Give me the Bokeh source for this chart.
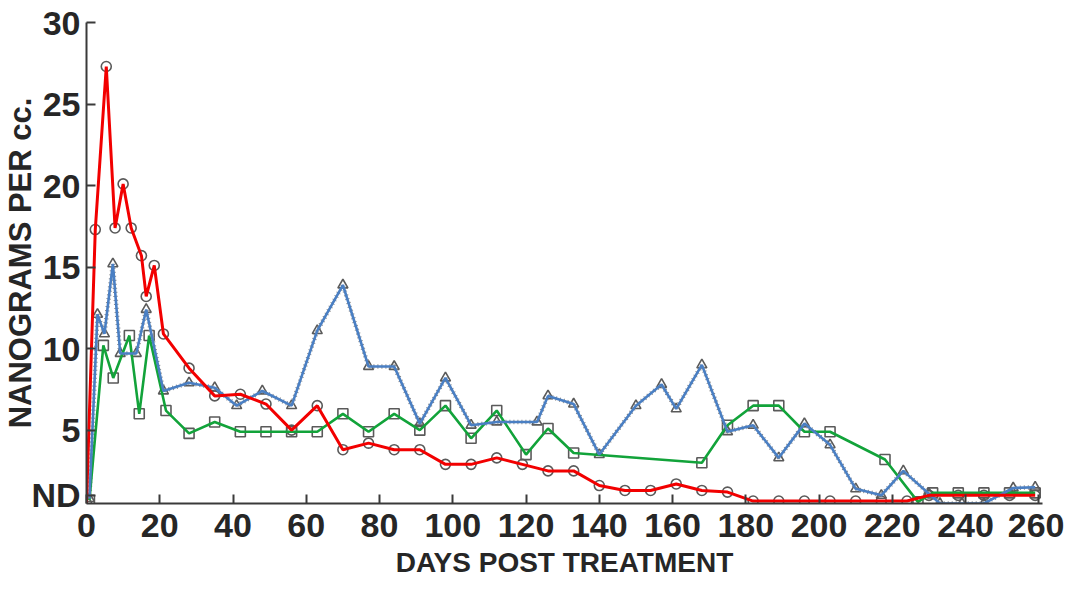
from bokeh.plotting import figure
from bokeh.models import Range1d, FixedTicker
from bokeh.embed import file_html
from bokeh.resources import INLINE

# ---- data ----
red_days = [0, 2.4, 5.4, 7.8, 10, 12.2, 15, 16.3, 18.5, 21, 28, 35, 42, 49, 56, 63, 70, 77, 84, 91,
            98, 105, 112, 119, 126, 133, 140, 147, 154, 161, 168, 175, 182, 189, 196, 203, 210, 217,
            224, 230, 238, 245, 252, 259]
red_vals = [0.5, 17.3, 27.3, 17.4, 20.1, 17.4, 15.7, 13.2, 15.1, 10.9, 8.8, 7.1, 7.2, 6.6, 5.0, 6.5,
            3.8, 4.2, 3.8, 3.8, 2.9, 2.9, 3.3, 2.9, 2.5, 2.5, 1.6, 1.3, 1.3, 1.7, 1.3, 1.2, 0.65, 0.65,
            0.65, 0.65, 0.65, 0.65, 0.65, 1.0, 1.0, 1.0, 1.0, 1.0]

blue_days = [0.8, 3, 4.9, 7.2, 9.2, 13.6, 16.3, 21, 28, 35, 41, 48, 56, 63, 70, 77, 84, 91, 98, 105,
             112, 123, 126, 133, 140, 150, 157, 161, 168, 175, 182, 189, 196, 203, 210, 217, 223, 230,
             233, 239, 245, 253, 259]
blue_vals = [0.8, 12.1, 10.9, 15.2, 9.7, 9.7, 12.4, 7.4, 7.9, 7.6, 6.5, 7.4, 6.5, 11.1, 13.9, 8.9, 8.9,
             5.4, 8.2, 5.3, 5.5, 5.5, 7.1, 6.6, 3.5, 6.5, 7.8, 6.3, 9.0, 4.9, 5.3, 3.3, 5.4, 4.1, 1.4,
             1.0, 2.5, 1.1, 0.5, 0.5, 0.5, 1.45, 1.5]

green_days = [0.8, 4.6, 7.3, 11.7, 14.4, 17.1, 21.7, 28, 35, 42, 49, 56, 63, 70, 77, 84, 91, 98, 105,
              112, 120, 126, 133, 168, 175, 182, 189, 196, 203, 218, 227, 231, 238, 245, 252, 259]
green_vals = [0.7, 10.2, 8.2, 10.8, 6.0, 10.8, 6.2, 4.8, 5.5, 4.9, 4.9, 4.9, 4.9, 6.0, 4.9, 6.0, 5.0,
              6.5, 4.5, 6.2, 3.5, 5.1, 3.6, 3.0, 5.3, 6.5, 6.5, 4.9, 4.9, 3.2, 0.6, 1.15, 1.15, 1.15,
              1.15, 1.15]

x_ticks = [0, 20, 40, 60, 80, 100, 120, 140, 160, 180, 200, 220, 240, 260]
y_ticks = [1, 5, 10, 15, 20, 25, 30]
y_tick_labels = ["ND", "5", "10", "15", "20", "25", "30"]

FONT = "Liberation Sans"

p = figure(width=1064, height=592, output_backend="svg", toolbar_location=None,
           x_range=Range1d(0, 261), y_range=Range1d(0.5, 30),
           min_border_left=82, min_border_right=22, min_border_top=22, min_border_bottom=89)
p.outline_line_color = None
p.grid.visible = False
p.background_fill_color = "white"

# markers (gray hollow, from the original print)
mk = dict(size=10, line_color="#5a5a5a", line_width=1.6, fill_color=None)
p.scatter(red_days, red_vals, marker="circle", **mk)
p.scatter(blue_days, blue_vals, marker="triangle", **mk)
p.scatter(green_days, green_vals, marker="square", **mk)

# dotted underlay of the blue series
p.line(blue_days, blue_vals, line_color="#8a8a8a", line_width=4.5, line_dash="1 3")

p.line(green_days, green_vals, line_color="#12a33a", line_width=2.6)
p.line(blue_days, blue_vals, line_color="#4a7fc3", line_width=2.6)
p.line(red_days, red_vals, line_color="#f20000", line_width=3)

for ax in (p.xaxis, p.yaxis):
    ax.axis_line_color = "#3a3a3a"
    ax.axis_line_width = 2
    ax.major_tick_line_color = "#3a3a3a"
    ax.major_tick_line_width = 2
    ax.major_tick_in = 9
    ax.major_tick_out = 0
    ax.minor_tick_line_color = None
    ax.major_label_text_font = FONT
    ax.major_label_text_font_style = "bold"
    ax.major_label_text_color = "#262626"
    ax.axis_label_text_font = FONT
    ax.axis_label_text_font_style = "bold"
    ax.axis_label_text_color = "#262626"

p.xaxis.ticker = FixedTicker(ticks=x_ticks)
p.yaxis.ticker = FixedTicker(ticks=y_ticks)
p.yaxis.major_label_overrides = {t: l for t, l in zip(y_ticks, y_tick_labels)}

p.xaxis.major_label_text_font_size = "34px"
p.yaxis.major_label_text_font_size = "34px"
p.xaxis.major_label_standoff = 10
p.yaxis.major_label_standoff = 6
p.xaxis.axis_label = "DAYS POST TREATMENT"
p.yaxis.axis_label = "NANOGRAMS PER cc."
p.xaxis.axis_label_text_font_size = "28px"
p.yaxis.axis_label_text_font_size = "31px"
p.xaxis.axis_label_standoff = 7
p.yaxis.axis_label_standoff = -10

open("out.html", "w").write(file_html(p, INLINE))
